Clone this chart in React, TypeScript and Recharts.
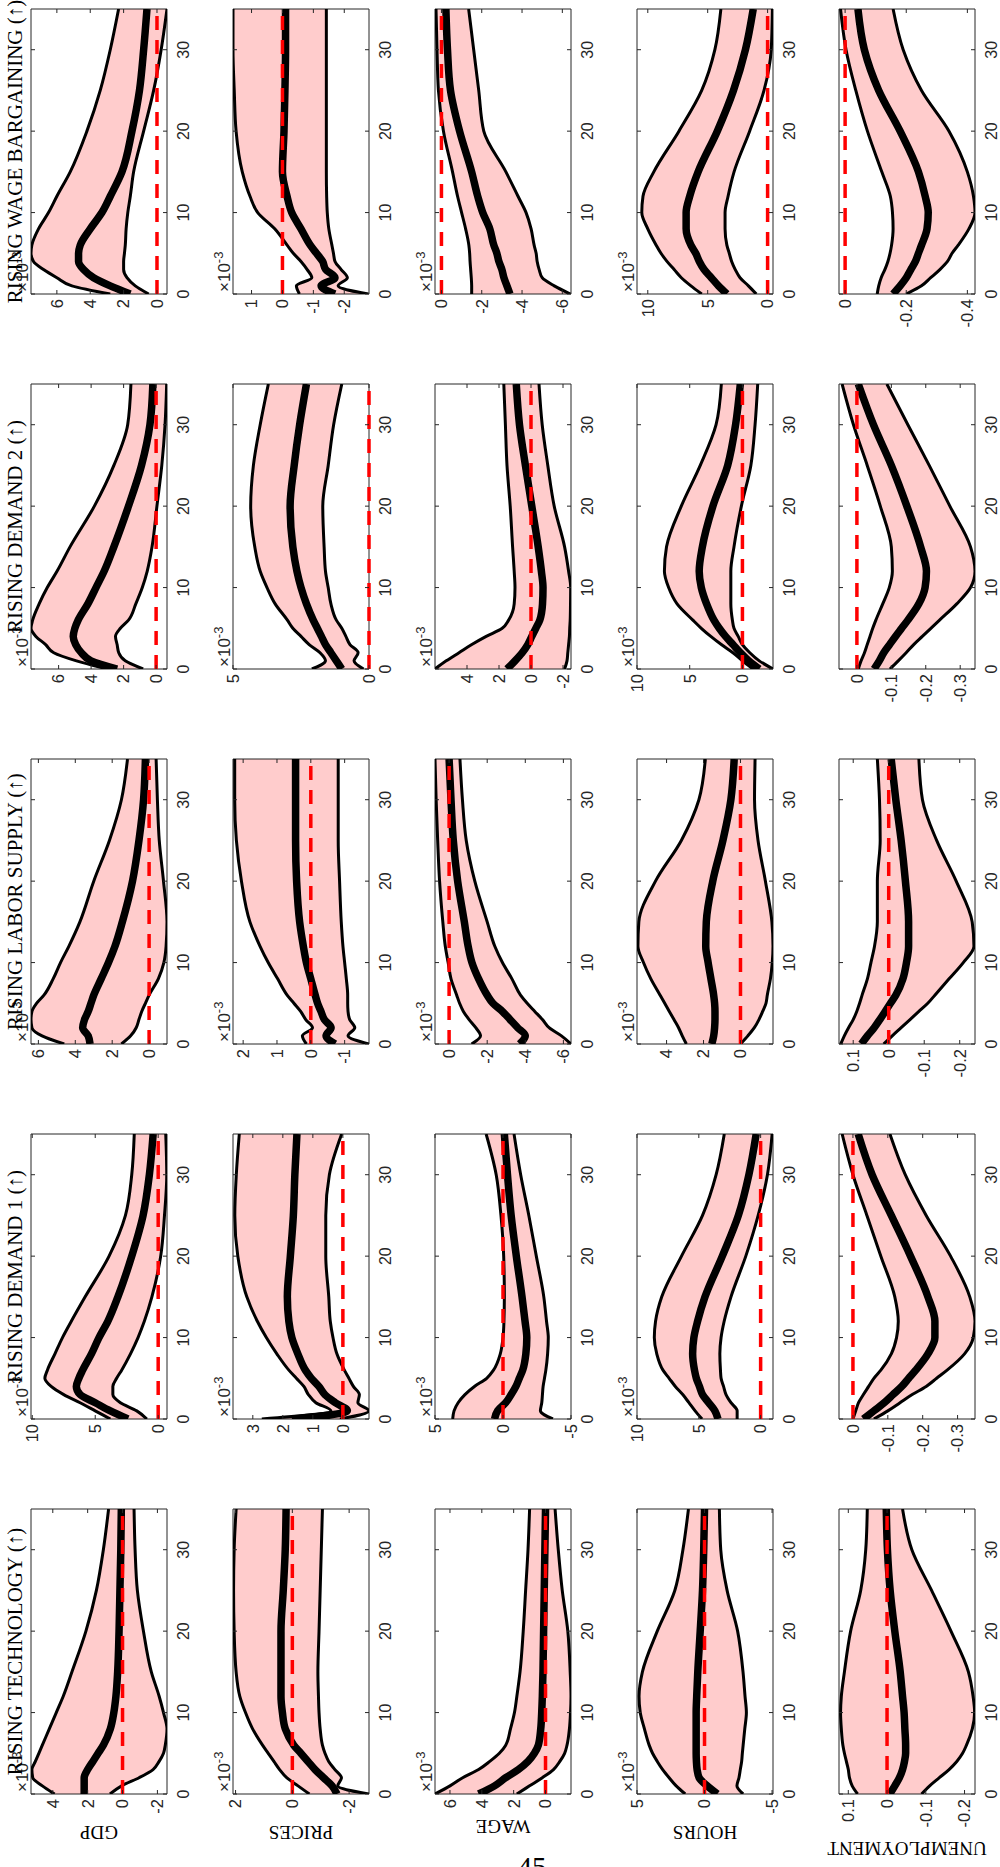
import React from 'react'
import { ComposedChart, Area, Line, XAxis, YAxis, ReferenceLine, ReferenceArea } from 'recharts'

const H = [0, 1, 2, 3, 4, 5, 6, 8, 10, 12, 15, 20, 25, 30, 35]
const hTicks = [0, 10, 20, 30]

const shocks = ['RISING TECHNOLOGY (↑)', 'RISING DEMAND 1 (↑)', 'RISING LABOR SUPPLY (↑)', 'RISING DEMAND 2 (↑)', 'RISING WAGE BARGAINING (↑)']
const variables = ['GDP', 'PRICES', 'WAGE', 'HOURS', 'UNEMPLOYMENT']

// ---- technology
const tecGdpHi = [3.9, 4.6, 5.15, 5.2, 5.0, 4.8, 4.6, 4.2, 3.8, 3.4, 2.9, 2.1, 1.5, 1.1, 0.8]
const tecGdpMd = [2.2, 2.2, 2.2, 2.0, 1.7, 1.4, 1.1, 0.7, 0.5, 0.38, 0.28, 0.2, 0.15, 0.1, 0.07]
const tecGdpLo = [0.72, 0.05, -0.95, -1.75, -2.1, -2.35, -2.45, -2.55, -2.35, -2.1, -1.65, -1.2, -0.85, -0.72, -0.66]
const tecPrcHi = [-0.6, -0.2, 0.2, 0.45, 0.65, 0.85, 1.05, 1.4, 1.65, 1.85, 1.98, 2.05, 2.07, 2.05, 1.98]
const tecPrcMd = [-1.57, -1.4, -1.1, -0.8, -0.55, -0.3, -0.05, 0.25, 0.35, 0.4, 0.4, 0.4, 0.32, 0.25, 0.22]
const tecPrcLo = [-2.7, -1.6, -1.73, -1.5, -1.28, -1.15, -1.06, -0.98, -0.94, -0.92, -0.9, -0.94, -0.98, -1.02, -1.06]
const tecWagHi = [6.94, 6.0, 5.2, 4.2, 3.5, 2.9, 2.5, 2.2, 1.95, 1.8, 1.6, 1.4, 1.25, 1.1, 1.0]
const tecWagMd = [4.2, 3.2, 2.5, 1.7, 1.1, 0.7, 0.45, 0.3, 0.24, 0.2, 0.16, 0.12, 0.08, 0.04, 0.0]
const tecWagLo = [1.8, 1.0, 0.2, -0.5, -0.9, -1.2, -1.35, -1.5, -1.57, -1.6, -1.55, -1.4, -1.05, -0.8, -0.6]
const tecHrsHi = [1.43, 2.1, 2.62, 3.1, 3.5, 3.85, 4.1, 4.45, 4.76, 4.85, 4.6, 3.5, 2.2, 1.6, 1.19]
const tecHrsMd = [-0.95, -0.2, 0.4, 0.55, 0.6, 0.62, 0.62, 0.62, 0.62, 0.58, 0.5, 0.32, 0.15, 0.06, 0.0]
const tecHrsLo = [-2.86, -2.4, -2.55, -2.65, -2.75, -2.8, -2.86, -2.98, -3.1, -3.0, -2.85, -2.45, -1.67, -1.2, -1.1]
const tecUneHi = [0.076, 0.09, 0.097, 0.1, 0.105, 0.11, 0.114, 0.118, 0.12, 0.118, 0.11, 0.094, 0.068, 0.055, 0.051]
const tecUneMd = [-0.007, -0.02, -0.032, -0.04, -0.045, -0.048, -0.048, -0.046, -0.044, -0.04, -0.034, -0.02, -0.008, -0.001, 0.002]
const tecUneLo = [-0.089, -0.11, -0.135, -0.16, -0.18, -0.195, -0.205, -0.22, -0.226, -0.222, -0.21, -0.165, -0.115, -0.064, -0.04]

// ---- demand 1
const d1GdpHi = [3.8, 5.0, 6.2, 7.5, 8.5, 9.0, 8.8, 8.2, 7.6, 6.9, 5.8, 3.9, 2.6, 2.1, 1.9]
const d1GdpMd = [2.4, 3.8, 5.0, 6.2, 6.5, 6.3, 6.0, 5.3, 4.7, 4.0, 3.2, 2.1, 1.2, 0.7, 0.4]
const d1GdpLo = [0.9, 1.7, 3.0, 3.6, 3.6, 3.3, 2.9, 2.2, 1.6, 1.1, 0.5, -0.2, -0.5, -0.68, -0.6]
const d1PrcHi = [2.7, 0.4, 0.9, 1.15, 1.3, 1.55, 1.8, 2.2, 2.55, 2.85, 3.2, 3.5, 3.6, 3.55, 3.45]
const d1PrcMd = [1.7, -0.15, 0.25, 0.6, 0.8, 1.05, 1.25, 1.5, 1.7, 1.8, 1.85, 1.75, 1.65, 1.6, 1.53]
const d1PrcLo = [0.1, -0.87, -0.5, -0.55, -0.35, -0.2, -0.05, 0.2, 0.33, 0.42, 0.47, 0.57, 0.57, 0.45, 0.04]
const d1WagHi = [3.7, 3.6, 3.3, 2.8, 2.1, 1.2, 0.7, 0.2, 0.0, -0.07, -0.1, -0.05, 0.15, 0.5, 1.24]
const d1WagMd = [0.62, 0.4, -0.2, -0.6, -0.95, -1.2, -1.45, -1.68, -1.75, -1.62, -1.4, -0.98, -0.6, -0.33, -0.1]
const d1WagLo = [-3.67, -2.75, -2.85, -2.9, -2.95, -3.05, -3.15, -3.28, -3.33, -3.2, -3.0, -2.45, -1.9, -1.3, -0.81]
const d1HrsHi = [4.74, 5.3, 5.8, 6.3, 6.9, 7.4, 7.9, 8.4, 8.6, 8.5, 8.0, 6.4, 4.7, 3.6, 2.94]
const d1HrsMd = [3.45, 3.7, 4.2, 4.7, 4.95, 5.2, 5.35, 5.5, 5.4, 5.1, 4.5, 3.1, 1.8, 0.95, 0.36]
const d1HrsLo = [1.9, 1.9, 2.4, 2.8, 3.0, 3.2, 3.25, 3.3, 3.2, 2.95, 2.4, 1.2, 0.2, -0.55, -0.93]
const d1UneHi = [0.0, -0.008, -0.016, -0.03, -0.045, -0.06, -0.08, -0.11, -0.125, -0.13, -0.12, -0.08, -0.04, 0.0, 0.031]
const d1UneMd = [-0.03, -0.06, -0.09, -0.115, -0.14, -0.16, -0.18, -0.215, -0.235, -0.235, -0.215, -0.165, -0.11, -0.055, -0.015]
const d1UneLo = [-0.06, -0.1, -0.135, -0.17, -0.21, -0.24, -0.27, -0.32, -0.345, -0.35, -0.335, -0.28, -0.21, -0.15, -0.106]

// ---- labor supply
const lsGdpHi = [4.6, 5.8, 6.35, 6.4, 6.35, 6.1, 5.7, 5.2, 4.8, 4.35, 3.75, 3.0, 2.15, 1.5, 1.17]
const lsGdpMd = [3.2, 3.3, 3.6, 3.5, 3.3, 3.15, 3.0, 2.6, 2.2, 1.85, 1.45, 0.9, 0.55, 0.3, 0.2]
const lsGdpLo = [1.5, 1.0, 0.7, 0.55, 0.4, 0.2, 0.0, -0.5, -0.8, -0.92, -0.97, -0.78, -0.55, -0.45, -0.38]
const lsPrcHi = [0.13, 0.25, -0.05, 0.15, 0.3, 0.5, 0.7, 0.98, 1.26, 1.5, 1.8, 2.05, 2.2, 2.25, 2.25]
const lsPrcMd = [-0.72, -0.45, -0.6, -0.4, -0.3, -0.2, -0.13, 0.0, 0.13, 0.22, 0.33, 0.42, 0.45, 0.45, 0.45]
const lsPrcLo = [-1.72, -1.1, -1.3, -1.15, -1.1, -1.09, -1.09, -1.05, -1.0, -0.95, -0.9, -0.85, -0.81, -0.81, -0.81]
const lsWagHi = [-1.18, -1.65, -1.4, -1.05, -0.75, -0.55, -0.4, -0.1, 0.05, 0.2, 0.33, 0.5, 0.6, 0.68, 0.74]
const lsWagMd = [-3.7, -4.0, -3.6, -3.2, -2.8, -2.3, -2.0, -1.55, -1.2, -1.0, -0.8, -0.45, -0.22, -0.1, 0.0]
const lsWagLo = [-6.4, -5.9, -5.25, -4.9, -4.5, -4.1, -3.75, -3.3, -2.8, -2.4, -2.0, -1.35, -0.9, -0.7, -0.57]
const lsHrsHi = [2.93, 3.15, 3.35, 3.6, 3.85, 4.1, 4.35, 4.85, 5.25, 5.55, 5.5, 4.6, 3.2, 2.25, 1.9]
const lsHrsMd = [1.55, 1.45, 1.4, 1.38, 1.38, 1.4, 1.45, 1.6, 1.75, 1.88, 1.85, 1.5, 0.95, 0.52, 0.34]
const lsHrsLo = [0.0, -0.4, -0.75, -1.0, -1.2, -1.38, -1.45, -1.62, -1.72, -1.76, -1.7, -1.35, -0.95, -0.76, -0.79]
const lsUneHi = [0.135, 0.125, 0.113, 0.1, 0.09, 0.082, 0.075, 0.06, 0.05, 0.04, 0.032, 0.032, 0.024, 0.026, 0.032]
const lsUneMd = [0.077, 0.06, 0.041, 0.025, 0.01, -0.005, -0.02, -0.04, -0.05, -0.056, -0.056, -0.047, -0.035, -0.02, -0.007]
const lsUneLo = [0.014, -0.01, -0.035, -0.06, -0.085, -0.11, -0.13, -0.17, -0.21, -0.24, -0.235, -0.19, -0.135, -0.095, -0.085]

// ---- demand 2
const d2GdpHi = [3.0, 4.9, 6.3, 6.8, 7.4, 7.7, 7.6, 7.2, 6.7, 6.1, 5.3, 3.8, 2.6, 1.75, 1.55]
const d2GdpMd = [2.4, 4.0, 4.6, 4.95, 5.1, 5.0, 4.8, 4.2, 3.7, 3.2, 2.6, 1.7, 0.9, 0.38, 0.2]
const d2GdpLo = [0.8, 1.9, 2.3, 2.4, 2.5, 2.2, 1.7, 1.25, 0.85, 0.55, 0.25, -0.05, -0.35, -0.55, -0.65]
const d2PrcHi = [2.1, 1.6, 1.8, 2.2, 2.5, 2.8, 3.0, 3.45, 3.75, 4.0, 4.2, 4.35, 4.25, 4.0, 3.7]
const d2PrcMd = [1.0, 1.2, 1.4, 1.6, 1.75, 1.9, 2.05, 2.3, 2.5, 2.65, 2.8, 2.9, 2.75, 2.55, 2.3]
const d2PrcLo = [0.2, 0.55, 0.4, 0.7, 0.85, 1.0, 1.2, 1.4, 1.5, 1.6, 1.65, 1.7, 1.5, 1.3, 1.0]
const d2WagHi = [6.0, 5.3, 4.5, 3.7, 2.8, 1.8, 1.4, 1.05, 1.0, 1.05, 1.15, 1.3, 1.5, 1.6, 1.7]
const d2WagMd = [1.5, 1.0, 0.55, 0.2, -0.05, -0.3, -0.55, -0.72, -0.75, -0.65, -0.45, -0.05, 0.35, 0.72, 0.92]
const d2WagLo = [-2.1, -2.25, -2.3, -2.35, -2.4, -2.42, -2.45, -2.47, -2.48, -2.35, -2.1, -1.45, -1.05, -0.7, -0.5]
const d2HrsHi = [-1.0, 0.0, 0.9, 2.0, 3.0, 3.9, 4.7, 6.2, 7.0, 7.4, 7.2, 5.8, 4.0, 2.5, 2.0]
const d2HrsMd = [-1.6, -0.6, 0.2, 0.9, 1.6, 2.2, 2.7, 3.4, 3.9, 4.1, 3.8, 2.8, 1.4, 0.65, 0.2]
const d2HrsLo = [-2.9, -1.6, -0.7, 0.0, 0.4, 0.8, 0.95, 1.1, 1.1, 1.1, 0.8, 0.1, -0.8, -1.2, -1.45]
const d2UneHi = [-0.004, -0.012, -0.022, -0.03, -0.038, -0.046, -0.055, -0.075, -0.094, -0.103, -0.1, -0.068, -0.03, 0.01, 0.043]
const d2UneMd = [-0.05, -0.065, -0.078, -0.095, -0.112, -0.13, -0.148, -0.18, -0.198, -0.202, -0.185, -0.145, -0.1, -0.048, -0.004]
const d2UneLo = [-0.096, -0.12, -0.143, -0.165, -0.19, -0.215, -0.24, -0.29, -0.33, -0.343, -0.33, -0.27, -0.21, -0.148, -0.087]

// ---- wage bargaining
const wbGdpHi = [2.8, 5.1, 6.0, 6.8, 7.4, 7.55, 7.5, 7.1, 6.5, 6.0, 5.2, 4.2, 3.4, 2.8, 2.3]
const wbGdpMd = [1.6, 2.8, 3.8, 4.4, 4.7, 4.7, 4.6, 4.0, 3.3, 2.8, 2.1, 1.5, 1.05, 0.8, 0.6]
const wbGdpLo = [0.5, 1.3, 1.8, 2.0, 2.0, 1.95, 1.9, 1.85, 1.75, 1.6, 1.4, 0.8, 0.2, -0.25, -0.6]
const wbPrcHi = [-0.55, -0.45, -0.95, -0.8, -0.6, -0.35, -0.15, 0.25, 0.8, 1.05, 1.3, 1.5, 1.56, 1.6, 1.6]
const wbPrcMd = [-1.7, -1.25, -1.7, -1.4, -1.3, -1.1, -0.9, -0.6, -0.3, -0.15, 0.0, -0.05, -0.08, -0.1, -0.1]
const wbPrcLo = [-2.78, -1.8, -2.1, -1.9, -1.7, -1.65, -1.6, -1.5, -1.45, -1.43, -1.42, -1.42, -1.42, -1.42, -1.42]
const wbWagHi = [-1.5, -1.5, -1.48, -1.45, -1.42, -1.4, -1.36, -1.2, -1.0, -0.8, -0.55, -0.1, 0.15, 0.22, 0.27]
const wbWagMd = [-3.4, -3.25, -3.1, -3.0, -2.85, -2.75, -2.6, -2.4, -2.05, -1.8, -1.5, -0.9, -0.45, -0.3, -0.22]
const wbWagLo = [-6.4, -5.6, -5.0, -4.85, -4.75, -4.7, -4.6, -4.45, -4.2, -3.8, -3.2, -2.1, -1.85, -1.6, -1.35]
const wbHrsHi = [5.5, 6.4, 7.2, 7.8, 8.4, 8.9, 9.3, 10.0, 10.5, 10.4, 9.5, 7.4, 5.5, 4.4, 3.9]
const wbHrsMd = [3.4, 4.1, 4.7, 5.3, 5.7, 6.0, 6.4, 6.8, 6.8, 6.5, 5.8, 4.2, 2.85, 1.85, 1.2]
const wbHrsLo = [0.95, 1.6, 2.3, 2.7, 3.0, 3.2, 3.4, 3.55, 3.55, 3.3, 2.8, 1.5, 0.3, -0.3, -0.4]
const wbUneHi = [-0.105, -0.11, -0.118, -0.13, -0.14, -0.147, -0.152, -0.157, -0.155, -0.148, -0.12, -0.073, -0.035, -0.003, 0.015]
const wbUneMd = [-0.157, -0.18, -0.2, -0.215, -0.23, -0.24, -0.25, -0.268, -0.272, -0.262, -0.24, -0.18, -0.11, -0.063, -0.042]
const wbUneLo = [-0.2, -0.25, -0.28, -0.31, -0.335, -0.35, -0.37, -0.405, -0.425, -0.42, -0.4, -0.34, -0.25, -0.19, -0.157]

// y limits and ticks, per shock, in the order GDP, prices, wage, hours, unemployment
const tecRanges = [[-2.55, 5.25], [-2.7, 2.09], [-1.6, 6.94], [-5.07, 5], [-0.227, 0.124]]
const d1Ranges = [[-0.7, 10.1], [-0.87, 3.66], [-5, 5], [-1, 10], [-0.35, 0.04]]
const lsRanges = [[-0.97, 6.4], [-1.72, 2.3], [-6.4, 0.74], [-1.76, 5.6], [-0.243, 0.14]]
const d2Ranges = [[-0.67, 7.7], [0, 5], [-2.5, 6.0], [-2.9, 10], [-0.343, 0.052]]
const wbRanges = [[-0.6, 7.55], [-2.8, 1.6], [-6.43, 0.32], [-0.45, 10.9], [-0.425, 0.02]]

const tecTicks = [[-2, 0, 2, 4], [-2, 0, 2], [0, 2, 4, 6], [-5, 0, 5], [-0.2, -0.1, 0, 0.1]]
const d1Ticks = [[0, 5, 10], [0, 1, 2, 3], [-5, 0, 5], [0, 5, 10], [-0.3, -0.2, -0.1, 0]]
const lsTicks = [[0, 2, 4, 6], [-1, 0, 1, 2], [-6, -4, -2, 0], [0, 2, 4], [-0.2, -0.1, 0, 0.1]]
const d2Ticks = [[0, 2, 4, 6], [0, 5], [-2, 0, 2, 4], [0, 5, 10], [-0.3, -0.2, -0.1, 0]]
const wbTicks = [[0, 2, 4, 6], [-2, -1, 0, 1], [-6, -4, -2, 0], [0, 5, 10], [-0.4, -0.2, 0]]

const bands = [
  [[tecGdpHi, tecGdpMd, tecGdpLo], [tecPrcHi, tecPrcMd, tecPrcLo], [tecWagHi, tecWagMd, tecWagLo], [tecHrsHi, tecHrsMd, tecHrsLo], [tecUneHi, tecUneMd, tecUneLo]],
  [[d1GdpHi, d1GdpMd, d1GdpLo], [d1PrcHi, d1PrcMd, d1PrcLo], [d1WagHi, d1WagMd, d1WagLo], [d1HrsHi, d1HrsMd, d1HrsLo], [d1UneHi, d1UneMd, d1UneLo]],
  [[lsGdpHi, lsGdpMd, lsGdpLo], [lsPrcHi, lsPrcMd, lsPrcLo], [lsWagHi, lsWagMd, lsWagLo], [lsHrsHi, lsHrsMd, lsHrsLo], [lsUneHi, lsUneMd, lsUneLo]],
  [[d2GdpHi, d2GdpMd, d2GdpLo], [d2PrcHi, d2PrcMd, d2PrcLo], [d2WagHi, d2WagMd, d2WagLo], [d2HrsHi, d2HrsMd, d2HrsLo], [d2UneHi, d2UneMd, d2UneLo]],
  [[wbGdpHi, wbGdpMd, wbGdpLo], [wbPrcHi, wbPrcMd, wbPrcLo], [wbWagHi, wbWagMd, wbWagLo], [wbHrsHi, wbHrsMd, wbHrsLo], [wbUneHi, wbUneMd, wbUneLo]],
]
const ranges = [tecRanges, d1Ranges, lsRanges, d2Ranges, wbRanges]
const ticks = [tecTicks, d1Ticks, lsTicks, d2Ticks, wbTicks]

// layout of the (landscape) figure before it is turned onto the page
const FIG_W = 1867, FIG_H = 1000
const colLeft = [73, 448, 823, 1198, 1573]
const rowTop = [31, 233, 435, 637, 839]
const labelX = [34, 34, 40, 34, 18]
const PW = 285, PH = 136
const YW = 46, MT = 12, MR = 14, XH = 34

const SANS = '"Liberation Sans", Arial, Helvetica, sans-serif'
const SERIF = '"Liberation Serif", "Times New Roman", Times, serif'
const AX = '#262626'
const PINK = '#FFCCCC'

function YTick(props: any) {
  const { x, y, payload } = props
  return (
    <g>
      <line x1={YW} x2={YW + 4} y1={y} y2={y} stroke={AX} strokeWidth={1} />
      <line x1={YW + PW - 4} x2={YW + PW} y1={y} y2={y} stroke={AX} strokeWidth={1} />
      <text x={x} y={y} dy="0.355em" textAnchor="end" fontSize={16.5} fontFamily={SANS} fill={AX}>{payload.value}</text>
    </g>
  )
}

function XTick(props: any) {
  const { x, y, payload } = props
  return (
    <g>
      <line x1={x} x2={x} y1={MT + PH} y2={MT + PH - 4} stroke={AX} strokeWidth={1} />
      <line x1={x} x2={x} y1={MT} y2={MT + 4} stroke={AX} strokeWidth={1} />
      <text x={x} y={y} dy="0.71em" textAnchor="middle" fontSize={16} fontFamily={SANS} fill={AX}>{payload.value}</text>
    </g>
  )
}

function Panel({ s, v }: { s: number; v: number }) {
  const [hi, md, lo] = bands[s][v]
  const range = ranges[s][v]
  const data = H.map((h, i) => ({ h, band: [lo[i], hi[i]], hi: hi[i], md: md[i], lo: lo[i] }))
  return (
    <div style={{ position: 'absolute', left: colLeft[s] - YW, top: rowTop[v] - MT }}>
      <ComposedChart width={YW + PW + MR} height={MT + PH + XH} data={data} margin={{ top: MT, right: MR, left: 0, bottom: 0 }}>
        <XAxis dataKey="h" type="number" domain={[0, 35]} ticks={hTicks} interval={0} height={XH}
          axisLine={false} tickLine={false} tickSize={0} tickMargin={11} tick={XTick} allowDataOverflow />
        <YAxis type="number" domain={range} ticks={ticks[s][v]} interval={0} width={YW}
          axisLine={false} tickLine={false} tickSize={0} tickMargin={5} tick={YTick} allowDataOverflow />
        <Area dataKey="band" type="monotone" stroke="none" fill={PINK} fillOpacity={1} isAnimationActive={false} />
        <Line dataKey="hi" type="monotone" stroke="#000" strokeWidth={3} dot={false} isAnimationActive={false} />
        <Line dataKey="lo" type="monotone" stroke="#000" strokeWidth={3} dot={false} isAnimationActive={false} />
        <Line dataKey="md" type="monotone" stroke="#000" strokeWidth={7.5} dot={false} isAnimationActive={false} />
        <ReferenceLine y={0} stroke="#FF0000" strokeWidth={3.5} strokeDasharray="14 10" />
        <ReferenceArea x1={0} x2={35} y1={range[0]} y2={range[1]} fill="none" stroke={AX} strokeWidth={1} ifOverflow="visible" />
      </ComposedChart>
    </div>
  )
}

export default function App() {
  const cells: React.ReactNode[] = []
  shocks.forEach((_, s) => variables.forEach((__, v) => cells.push(<Panel key={`${s}-${v}`} s={s} v={v} />)))
  return (
    <div style={{ position: 'absolute', left: 0, top: 0, width: 1000, height: 1867, overflow: 'hidden', background: '#fff' }}>
      <div style={{ position: 'absolute', left: 0, top: 0, width: FIG_W, height: FIG_H, transformOrigin: '0 0', transform: `translateY(${FIG_W}px) rotate(-90deg)` }}>
        {cells}
        <svg width={FIG_W} height={FIG_H} style={{ position: 'absolute', left: 0, top: 0, pointerEvents: 'none' }}>
          {shocks.map((_, s) => variables.slice(0, 4).map((__, v) => (
            <text key={`m${s}-${v}`} x={colLeft[s] + 2} y={rowTop[v] - 3} fontSize={17} fontFamily={SANS} fill={AX}>
              ×10<tspan dy={-7} fontSize={13}>-3</tspan>
            </text>
          )))}
          {shocks.map((t, s) => (
            <text key={t} x={colLeft[s] + PW / 2} y={22} textAnchor="middle" fontSize={21} fontFamily={SERIF} fill="#000">{t}</text>
          ))}
          {variables.map((name, v) => {
            const cy = rowTop[v] + PH / 2
            return (
              <text key={name} x={labelX[v]} y={cy} dy="0.35em" transform={`rotate(-90 ${labelX[v]} ${cy})`} textAnchor="middle" fontSize={19} fontFamily={SERIF} fill="#000">{name}</text>
            )
          })}
        </svg>
      </div>
      <svg width={1000} height={1867} style={{ position: 'absolute', left: 0, top: 0, pointerEvents: 'none' }}>
        <text x={532} y={1877} textAnchor="middle" fontSize={29} fontFamily={SERIF} fill="#000">45</text>
      </svg>
    </div>
  )
}
